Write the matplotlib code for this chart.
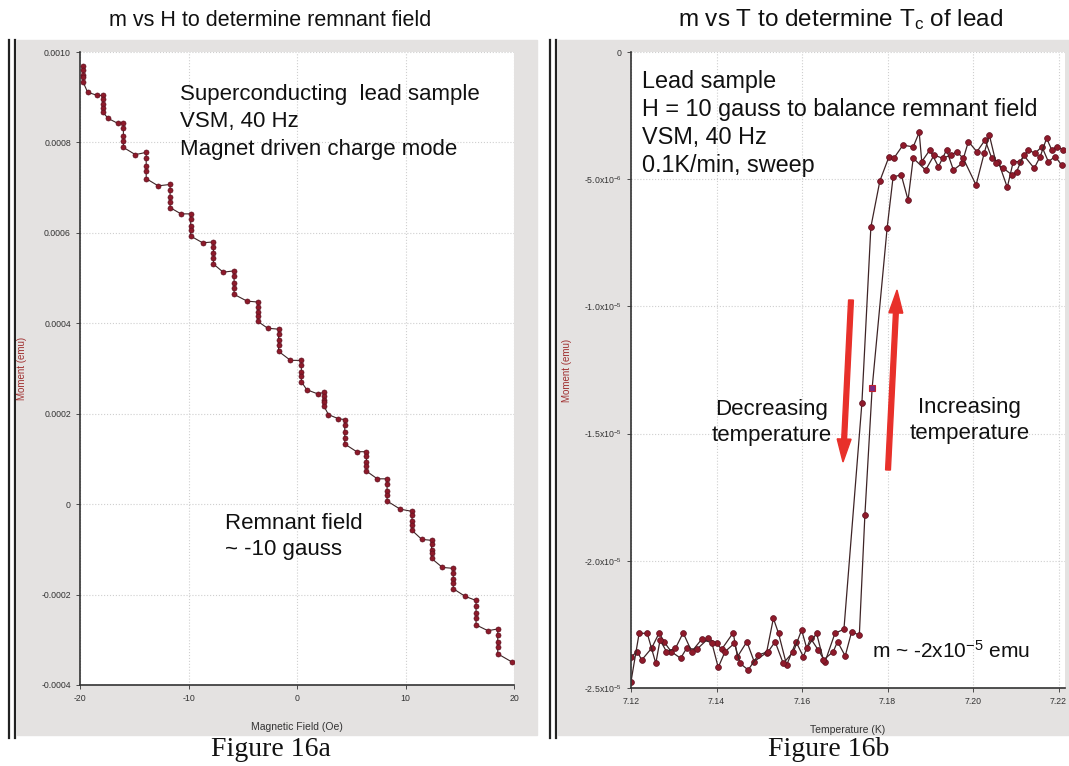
#!/usr/bin/env python
# coding: utf-8

import matplotlib
matplotlib.use("Agg")
import matplotlib.pyplot as plt
from matplotlib.patches import Rectangle, FancyArrow
from matplotlib.lines import Line2D

plt.rcParams['font.family'] = ['Liberation Sans', 'DejaVu Sans']
plt.rcParams['mathtext.fontset'] = 'custom'
plt.rcParams['mathtext.rm'] = 'Liberation Sans'
plt.rcParams['mathtext.it'] = 'Liberation Sans:italic'

# Figure 16a: m vs H, staircase (each step = several readings at one field)
field_oe = [
    -19.7, -19.7, -19.7, -19.7, -19.7, -19.3, -18.4,
    -17.9, -17.9, -17.9, -17.9, -17.9, -17.4, -16.5,
    -16.0, -16.0, -16.0, -16.0, -16.0, -14.9,
    -13.9, -13.9, -13.9, -13.9, -13.9, -12.8,
    -11.7, -11.7, -11.7, -11.7, -11.7, -10.7,
    -9.8, -9.8, -9.8, -9.8, -9.8, -8.7,
    -7.7, -7.7, -7.7, -7.7, -7.7, -6.8,
    -5.8, -5.8, -5.8, -5.8, -5.8, -4.6,
    -3.6, -3.6, -3.6, -3.6, -3.6, -2.7,
    -1.7, -1.7, -1.7, -1.7, -1.7, -0.6,
    0.4, 0.4, 0.4, 0.4, 0.4, 0.9, 1.9,
    2.5, 2.5, 2.5, 2.5, 2.5, 2.9, 3.8,
    4.4, 4.4, 4.4, 4.4, 4.4, 5.5,
    6.4, 6.4, 6.4, 6.4, 6.4, 7.4,
    8.3, 8.3, 8.3, 8.3, 8.3, 9.5,
    10.6, 10.6, 10.6, 10.6, 10.6, 11.5,
    12.4, 12.4, 12.4, 12.4, 12.4, 13.4,
    14.4, 14.4, 14.4, 14.4, 14.4, 15.5,
    16.5, 16.5, 16.5, 16.5, 16.5, 17.6,
    18.5, 18.5, 18.5, 18.5, 18.5, 19.8,
]
moment_emu = [
    0.000968, 0.000961, 0.000950, 0.000944, 0.000933, 0.000911, 0.000904,
    0.000904, 0.000897, 0.000884, 0.000877, 0.000867, 0.000853, 0.000842,
    0.000844, 0.000832, 0.000815, 0.000804, 0.000789, 0.000773,
    0.000778, 0.000766, 0.000748, 0.000736, 0.000720, 0.000704,
    0.000707, 0.000695, 0.000680, 0.000669, 0.000656, 0.000642,
    0.000642, 0.000631, 0.000616, 0.000606, 0.000593, 0.000578,
    0.000580, 0.000569, 0.000555, 0.000544, 0.000531, 0.000513,
    0.000516, 0.000504, 0.000489, 0.000478, 0.000464, 0.000449,
    0.000447, 0.000437, 0.000424, 0.000416, 0.000404, 0.000389,
    0.000387, 0.000376, 0.000362, 0.000351, 0.000338, 0.000318,
    0.000318, 0.000307, 0.000293, 0.000284, 0.000271, 0.000253, 0.000244,
    0.000247, 0.000240, 0.000230, 0.000225, 0.000216, 0.000198, 0.000189,
    0.000187, 0.000174, 0.000159, 0.000147, 0.000133, 0.000116,
    0.000116, 0.000106, 0.000093, 0.000085, 0.000073, 0.000056,
    0.000056, 0.000045, 0.000030, 0.000020, 0.000007, -0.000011,
    -0.000016, -0.000025, -0.000038, -0.000046, -0.000058, -0.000078,
    -0.000080, -0.000089, -0.000101, -0.000109, -0.000120, -0.000140,
    -0.000142, -0.000152, -0.000165, -0.000175, -0.000187, -0.000204,
    -0.000213, -0.000225, -0.000241, -0.000252, -0.000267, -0.000280,
    -0.000276, -0.000289, -0.000305, -0.000316, -0.000331, -0.000349,
]
h_ticks = [-20, -10, 0, 10, 20]
h_tick_labels = ['-20', '-10', '0', '10', '20']
m_ticks_a = [0.0010, 0.0008, 0.0006, 0.0004, 0.0002, 0, -0.0002, -0.0004]
m_tick_labels_a = ['0.0010', '0.0008', '0.0006', '0.0004', '0.0002', '0',
                   '-0.0002', '-0.0004']

# Figure 16b: m vs T, moment in units of 1e-6 emu
cool_temp_k = [
    7.1200, 7.1215, 7.1225, 7.1248, 7.1266, 7.1277, 7.1294, 7.1316, 7.1330, 7.1354,
    7.1381, 7.1400, 7.1412, 7.1439, 7.1449, 7.1471, 7.1488, 7.1517, 7.1533, 7.1545,
    7.1564, 7.1586, 7.1603, 7.1620, 7.1638, 7.1654, 7.1677, 7.1698,
    7.1740, 7.1761, 7.1782, 7.1803, 7.1815, 7.1836, 7.1860, 7.1874,
    7.1880, 7.1899, 7.1919, 7.1938, 7.1954, 7.1974, 7.1989, 7.2009, 7.2028, 7.2044,
    7.2059, 7.2080, 7.2094, 7.2110, 7.2129, 7.2145, 7.2161, 7.2176, 7.2192, 7.2207,
]
cool_moment = [
    -23.77, -23.57, -23.90, -23.44, -22.83, -23.18, -23.57, -23.83, -23.44, -23.48,
    -23.05, -23.24, -23.48, -22.83, -23.77, -23.18, -23.96, -23.61, -22.26, -22.85,
    -24.10, -23.18, -23.77, -23.05, -23.51, -23.96, -22.85, -22.69,
    -13.80, -6.88, -5.07, -4.13, -4.17, -3.66, -3.73, -3.16,
    -4.31, -3.85, -4.51, -3.85, -4.64, -4.38, -3.52, -3.92, -3.46, -4.18,
    -4.31, -5.32, -4.31, -4.31, -3.85, -3.98, -3.72, -4.31, -4.11, -4.44,
]
warm_temp_k = [
    7.1200, 7.1219, 7.1238, 7.1258, 7.1268, 7.1283, 7.1304, 7.1322, 7.1342, 7.1365,
    7.1389, 7.1404, 7.1420, 7.1442, 7.1455, 7.1474, 7.1498, 7.1521, 7.1537, 7.1556,
    7.1580, 7.1599, 7.1611, 7.1634, 7.1650, 7.1673, 7.1683, 7.1701, 7.1716, 7.1734,
    7.1747, 7.1764, 7.1799, 7.1813, 7.1832, 7.1848, 7.1860,
    7.1889, 7.1909, 7.1929, 7.1948, 7.1962, 7.1977, 7.2007, 7.2026, 7.2038, 7.2054,
    7.2071, 7.2091, 7.2102, 7.2118, 7.2143, 7.2157, 7.2172, 7.2184, 7.2196, 7.2211,
]
warm_moment = [
    -24.75, -22.85, -22.85, -24.03, -23.11, -23.57, -23.44, -22.83, -23.57, -23.09,
    -23.22, -24.19, -23.57, -23.24, -24.03, -24.29, -23.70, -23.57, -23.18, -24.03,
    -23.57, -22.72, -23.44, -22.85, -23.90, -23.57, -23.18, -23.74, -22.79, -22.92,
    -18.20, -13.20, -6.92, -4.91, -4.83, -5.82, -4.17,
    -4.64, -4.05, -4.18, -4.05, -3.92, -4.18, -5.23, -3.98, -3.26, -4.38,
    -4.57, -4.83, -4.70, -4.05, -4.57, -4.11, -3.39, -3.85, -3.72, -3.85,
]
cursor_index = 31  # highlighted reading on the warming curve
t_ticks = [7.12, 7.14, 7.16, 7.18, 7.20, 7.22]
t_tick_labels = ['7.12', '7.14', '7.16', '7.18', '7.20', '7.22']
m_ticks_b = [0, -5e-6, -1e-5, -1.5e-5, -2e-5, -2.5e-5]
m_tick_labels_b = ['0', r'-5.0x10$^{-6}$', r'-1.0x10$^{-5}$', r'-1.5x10$^{-5}$',
                   r'-2.0x10$^{-5}$', r'-2.5x10$^{-5}$']

W, H = 1069, 766
LINE_COL = '#3e2426'
MARK_COL = '#8e1a2a'
PANEL_COL = '#e4e2e1'


def fx(px):
    return px / W


def fy(py):
    return 1 - py / H


def style_axes(ax):
    ax.set_facecolor('white')
    for side in ['top', 'right']:
        ax.spines[side].set_visible(False)
    for side in ['left', 'bottom']:
        ax.spines[side].set_color('#333333')
        ax.spines[side].set_linewidth(1.2)
    ax.tick_params(labelsize=6.3, colors='#333333', length=3, width=0.6,
                   labelcolor='#333333')
    ax.grid(True, linestyle=':', color='#cfcfcf', linewidth=0.8)
    ax.set_axisbelow(True)


fig = plt.figure(figsize=(W / 100, H / 100), dpi=100)
fig.patch.set_facecolor('white')

# gray panel backgrounds and double rules (behind the axes)
fig.patches.append(Rectangle((fx(17), fy(735)), fx(520), 695 / H,
                             transform=fig.transFigure, color=PANEL_COL, zorder=-5))
fig.patches.append(Rectangle((fx(558), fy(735)), fx(511), 695 / H,
                             transform=fig.transFigure, color=PANEL_COL, zorder=-5))
for xpx in [9, 15, 550, 556]:
    fig.lines.append(Line2D([fx(xpx), fx(xpx)], [fy(40), fy(738)],
                            transform=fig.transFigure, color='#222222', lw=1.6,
                            zorder=-4))

# ---- Figure 16a ----
ax1 = fig.add_axes([fx(80), fy(685), fx(434), 633 / H])
style_axes(ax1)
ax1.plot(field_oe, moment_emu, '-', color=LINE_COL, lw=0.8, zorder=2)
ax1.plot(field_oe, moment_emu, 'o', color=MARK_COL, ms=3.6, mec='#5e1020',
         mew=0.5, zorder=3)
ax1.set_xlim(-20, 20)
ax1.set_ylim(-0.0004, 0.0010)
ax1.set_xticks(h_ticks)
ax1.set_xticklabels(h_tick_labels)
ax1.set_yticks(m_ticks_a)
ax1.set_yticklabels(m_tick_labels_a)
ax1.set_xlabel('Magnetic Field (Oe)', fontsize=7.5, color='#333333', labelpad=14)
ax1.set_ylabel('Moment (emu)', fontsize=7, color='#a03030', labelpad=10)

ax1.text(0.23, 0.95, 'Superconducting  lead sample\nVSM, 40 Hz\nMagnet driven charge mode',
         transform=ax1.transAxes, fontsize=16, va='top', ha='left',
         linespacing=1.42, color='#111111')
ax1.text(0.335, 0.272, 'Remnant field\n~ -10 gauss', transform=ax1.transAxes,
         fontsize=16, va='top', ha='left', linespacing=1.35, color='#111111')

# ---- Figure 16b ----
ax2 = fig.add_axes([fx(631), fy(688), fx(434), 636 / H])
style_axes(ax2)
ax2.plot(cool_temp_k, [m * 1e-6 for m in cool_moment], '-o', color=LINE_COL,
         lw=0.9, ms=4.2, mfc=MARK_COL, mec='#5e1020', mew=0.5)
ax2.plot(warm_temp_k, [m * 1e-6 for m in warm_moment], '-o', color=LINE_COL,
         lw=0.9, ms=4.2, mfc=MARK_COL, mec='#5e1020', mew=0.5)
ax2.plot([warm_temp_k[cursor_index]], [warm_moment[cursor_index] * 1e-6], 's',
         color='#7a2a80', ms=4.5, mec='#c02030', mew=0.8, zorder=5)
ax2.set_xlim(7.12, 7.2215)
ax2.set_ylim(-2.5e-5, 0)
ax2.set_xticks(t_ticks)
ax2.set_xticklabels(t_tick_labels)
ax2.set_yticks(m_ticks_b)
ax2.set_yticklabels(m_tick_labels_b)
ax2.set_xlabel('Temperature (K)', fontsize=7.5, color='#333333', labelpad=14)
ax2.set_ylabel('Moment (emu)', fontsize=7, color='#a03030', labelpad=9)

ax2.text(0.025, 0.972, 'Lead sample\nH = 10 gauss to balance remnant field\nVSM, 40 Hz\n0.1K/min, sweep',
         transform=ax2.transAxes, fontsize=16.8, va='top', ha='left',
         linespacing=1.28, color='#111111')
ax2.text(0.325, 0.454, 'Decreasing\ntemperature', transform=ax2.transAxes,
         fontsize=16, va='top', ha='center', linespacing=1.3, color='#111111')
ax2.text(0.78, 0.458, 'Increasing\ntemperature', transform=ax2.transAxes,
         fontsize=16, va='top', ha='center', linespacing=1.3, color='#111111')
ax2.text(0.555, 0.058, r'm ~ -2x10$^{-5}$ emu', transform=ax2.transAxes,
         fontsize=15, va='center', ha='left', color='#111111')

# red arrows
for (x0, y0, x1, y1) in [(851, 300, 843, 462), (888, 470, 897, 290)]:
    fig.patches.append(FancyArrow(fx(x0), fy(y0), fx(x1 - x0), (y0 - y1) / H,
                                  width=0.0045, head_width=0.013,
                                  head_length=0.03, length_includes_head=True,
                                  transform=fig.transFigure, color='#e8302a',
                                  zorder=5))

# titles and captions
fig.text(fx(270), fy(20), 'm vs H to determine remnant field', fontsize=15.5,
         ha='center', va='center', color='#111111')
fig.text(fx(841), fy(20), r'm vs T to determine T$_\mathrm{c}$ of lead',
         fontsize=17.5, ha='center', va='center', color='#111111')
fig.text(fx(271), fy(750), 'Figure 16a', fontsize=20, ha='center', va='center',
         family='Liberation Serif', color='#111111')
fig.text(fx(829), fy(750), 'Figure 16b', fontsize=20, ha='center', va='center',
         family='Liberation Serif', color='#111111')

plt.savefig('out.png', dpi=100)
